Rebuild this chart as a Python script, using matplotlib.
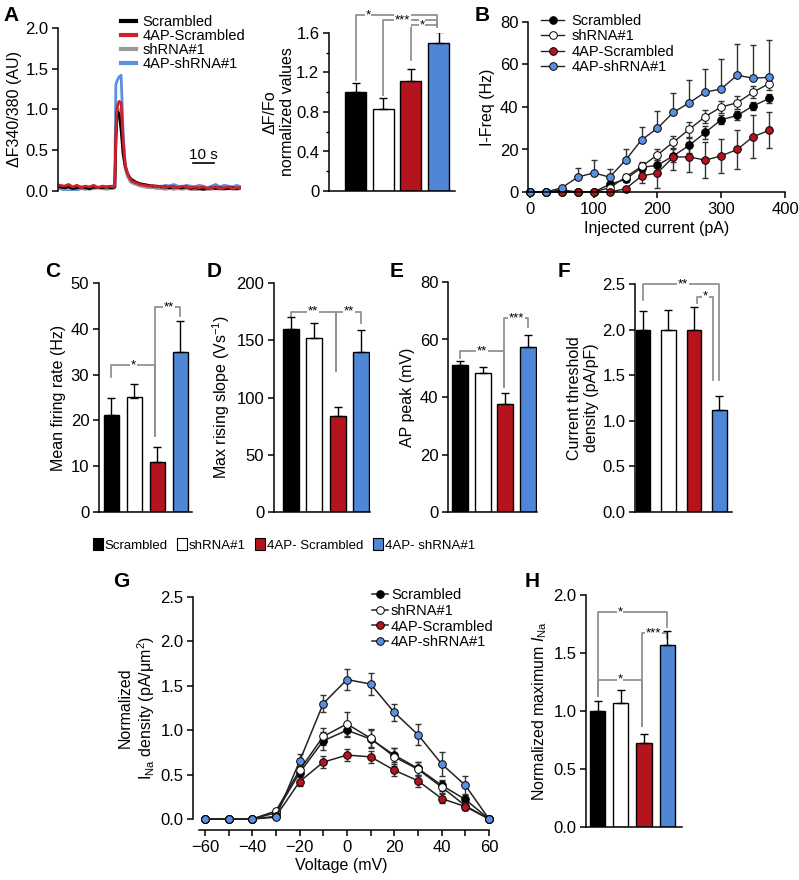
import numpy as np
import matplotlib
matplotlib.use('Agg')
import matplotlib.pyplot as plt
from matplotlib.lines import Line2D
from matplotlib.patches import Patch

plt.rcParams['font.family'] = ['Liberation Sans', 'DejaVu Sans']
plt.rcParams['mathtext.fontset'] = 'custom'
plt.rcParams['mathtext.rm'] = 'Liberation Sans'
plt.rcParams['mathtext.it'] = 'Liberation Sans:italic'
plt.rcParams['axes.linewidth'] = 1.1
plt.rcParams['xtick.major.width'] = 1.1
plt.rcParams['ytick.major.width'] = 1.1
plt.rcParams['xtick.major.size'] = 4
plt.rcParams['ytick.major.size'] = 4
plt.rcParams['xtick.major.pad'] = 3
plt.rcParams['ytick.major.pad'] = 3
plt.rcParams['xtick.labelsize'] = 12
plt.rcParams['ytick.labelsize'] = 12
plt.rcParams['axes.labelsize'] = 11.5
plt.rcParams['axes.labelpad'] = 3

groups = ['Scrambled', 'shRNA#1', '4AP- Scrambled', '4AP- shRNA#1']
bar_colors = ['#000000', '#ffffff', '#b3141d', '#4f86d6']
gray = '#929292'

# --- A: calcium traces
t = [0, 2, 4, 6, 8, 10, 12, 14, 16, 18, 20, 22, 24,
     25, 26, 26.5, 27, 28, 29, 30, 31, 32, 33,
     34, 36, 38, 40, 42, 44, 46, 48, 50, 52, 54, 56, 58, 60, 62, 64, 66, 68, 70, 72, 74, 76, 78, 80, 82, 84, 86]
tr_scr = [0.05, 0.04, 0.05, 0.03, 0.04, 0.05, 0.04, 0.03, 0.05, 0.04, 0.04, 0.05, 0.04,
          0.04, 0.05, 0.60, 0.98, 0.95, 0.75, 0.45, 0.30, 0.22, 0.17,
          0.14, 0.11, 0.09, 0.08, 0.07, 0.06, 0.06, 0.05, 0.05, 0.04, 0.05, 0.04, 0.04, 0.05, 0.03, 0.04,
          0.03, 0.02, 0.03, 0.04, 0.03, 0.04, 0.03, 0.03, 0.04, 0.03, 0.04]
tr_4s = [0.07, 0.06, 0.08, 0.05, 0.07, 0.04, 0.06, 0.05, 0.07, 0.04, 0.06, 0.05, 0.06,
         0.05, 0.06, 0.70, 1.02, 1.10, 1.08, 0.60, 0.32, 0.22, 0.16,
         0.12, 0.10, 0.08, 0.07, 0.06, 0.07, 0.05, 0.06, 0.04, 0.06, 0.05, 0.04, 0.06, 0.05, 0.04, 0.05,
         0.04, 0.05, 0.03, 0.04, 0.05, 0.03, 0.04, 0.05, 0.03, 0.04, 0.04]
tr_sh = [0.04, 0.03, 0.04, 0.02, 0.03, 0.04, 0.03, 0.02, 0.03, 0.04, 0.03, 0.02, 0.03,
         0.03, 0.04, 0.60, 1.03, 1.00, 0.80, 0.45, 0.27, 0.18, 0.13,
         0.10, 0.08, 0.06, 0.05, 0.04, 0.04, 0.03, 0.03, 0.02, 0.03, 0.02, 0.03, 0.02, 0.03, 0.02, 0.01,
         0.02, 0.03, 0.02, 0.02, 0.03, 0.02, 0.02, 0.03, 0.02, 0.02, 0.03]
tr_4sh = [0.03, 0.01, 0.00, 0.02, 0.01, 0.03, 0.02, 0.04, 0.03, 0.05, 0.04, 0.03, 0.05,
          0.04, 0.10, 1.30, 1.35, 1.40, 1.42, 0.70, 0.30, 0.20, 0.14,
          0.11, 0.09, 0.07, 0.06, 0.05, 0.06, 0.04, 0.05, 0.07, 0.06, 0.08, 0.06, 0.05, 0.07, 0.06, 0.05,
          0.07, 0.06, 0.04, 0.06, 0.08, 0.05, 0.07, 0.06, 0.05, 0.07, 0.05]

# bar values (mean, sem)
a_vals = [1.0, 0.83, 1.11, 1.50]
a_sem = [0.09, 0.11, 0.13, 0.11]
c_vals = [21.2, 25.0, 11.0, 35.0]
c_sem = [3.6, 3.0, 3.3, 6.8]
d_vals = [160, 152, 84, 140]
d_sem = [10, 13, 8, 19]
e_vals = [51.0, 48.3, 37.5, 57.4]
e_sem = [1.6, 2.1, 3.9, 4.0]
f_vals = [2.0, 2.0, 2.0, 1.12]
f_sem = [0.2, 0.22, 0.25, 0.15]
h_vals = [1.0, 1.07, 0.72, 1.57]
h_sem = [0.09, 0.11, 0.08, 0.12]

# --- B: I-F curves
cur = [0, 25, 50, 75, 100, 125, 150, 175, 200, 225, 250, 275, 300, 325, 350, 375]
b_scr = [0, 0, 0, 0, 0, 3.6, 6, 11.5, 12.6, 17, 22, 28, 34, 36, 40.5, 44]
b_scr_err = [0, 0, 0, 0, 0, 1, 1.5, 2, 2.5, 3, 3.5, 3, 2, 2, 2, 2]
b_sh = [0, 0, 1, 0, 0, 2, 7, 12, 17.5, 23.5, 29.5, 35.5, 40, 42, 47, 51]
b_sh_err = [0, 0, 0, 0, 0, 1, 1.5, 2, 2.5, 3, 3.5, 3, 3, 3, 3, 3]
b_4s = [0, 0, 0, 0, 0, 0, 1.5, 7.5, 9, 16.5, 16.5, 15, 17, 20, 26, 29]
b_4s_err = [0, 0, 0, 0, 0, 0, 1, 3.5, 7, 6, 7, 8.5, 8, 9, 10, 8.5]
b_4sh = [0, 0, 2, 7, 9, 7, 15, 24.5, 30, 37.5, 42, 47, 48.5, 55, 53.5, 54]
b_4sh_err = [0, 0, 0.5, 4.5, 6, 4, 5, 6, 8, 9, 10.5, 11, 14, 14.5, 15.5, 17.5]

# --- G: I-V curves
volt = [-60, -50, -40, -30, -20, -10, 0, 10, 20, 30, 40, 50, 60]
g_scr = [0, 0, 0, 0.07, 0.52, 0.88, 1.0, 0.90, 0.72, 0.57, 0.38, 0.22, 0]
g_scr_err = [0, 0, 0, 0.02, 0.08, 0.10, 0.08, 0.10, 0.08, 0.07, 0.06, 0.05, 0]
g_sh = [0, 0, 0, 0.09, 0.55, 0.93, 1.07, 0.91, 0.70, 0.56, 0.36, 0.15, 0]
g_sh_err = [0, 0, 0, 0.02, 0.07, 0.10, 0.13, 0.10, 0.10, 0.08, 0.07, 0.05, 0]
g_4s = [0, 0, 0, 0.03, 0.42, 0.64, 0.72, 0.70, 0.55, 0.43, 0.23, 0.14, 0]
g_4s_err = [0, 0, 0, 0.02, 0.05, 0.07, 0.07, 0.07, 0.07, 0.07, 0.05, 0.04, 0]
g_4sh = [0, 0, 0, 0.02, 0.65, 1.30, 1.57, 1.52, 1.20, 0.95, 0.62, 0.38, 0]
g_4sh_err = [0, 0, 0, 0.02, 0.08, 0.10, 0.12, 0.12, 0.10, 0.12, 0.14, 0.10, 0]

# significance brackets: (x_left, x_right, y, left_end, right_end, star_x, label)
a_br = [(0, 2.95, 1.78, 1.12, 1.66, 0.45, '*'),
        (1, 2.95, 1.73, 0.97, 1.66, 1.7, '***'),
        (2, 2.95, 1.68, 1.33, 1.66, 2.4, '*')]
c_br = [(0, 1.9, 32, 29.5, 16.5, 0.95, '*'),
        (1.9, 3, 44.7, 16.5, 42.7, 2.5, '**')]
d_br = [(0, 1.95, 175, 170, 123, 0.95, '**'),
        (1.95, 3, 175, 123, 165, 2.5, '**')]
e_br = [(0, 1.95, 56, 53.5, 43.5, 0.97, '**'),
        (1.95, 3, 67.4, 43.5, 64.5, 2.5, '***')]
f_br = [(0, 3.0, 2.5, 2.33, 1.45, 1.57, '**'),
        (2.1, 2.75, 2.36, 2.29, 1.45, 2.45, '*')]
h_br = [(0, 3.0, 1.85, 1.13, 1.72, 0.97, '*'),
        (0, 1.9, 1.27, 1.13, 0.87, 0.97, '*'),
        (1.9, 3.0, 1.67, 0.87, 1.63, 2.4, '***')]

W, H = 799, 880
fig = plt.figure(figsize=(W / 100, H / 100), dpi=100)


def px_axes(l, t, r, b):
    return fig.add_axes([l / W, 1 - b / H, (r - l) / W, (b - t) / H])


def clean(ax):
    ax.spines['top'].set_visible(False)
    ax.spines['right'].set_visible(False)
    ax.tick_params(direction='out')


def bracket(ax, br):
    x1, x2, y, e1, e2, sx, lab = br
    ax.plot([x1, x1, x2, x2], [e1, y, y, e2], color=gray, lw=1.3, clip_on=False, zorder=1)
    ax.text(sx, y, lab, ha='center', va='center', fontsize=9.5, zorder=3,
            bbox=dict(facecolor='white', edgecolor='none', pad=0.6))


def bar_panel(ax, vals, sem, ylim, yticks, ylabels, xlim, width, ylabel, brs, pad=3):
    x = np.arange(4)
    ax.bar(x, vals, width, color=bar_colors, edgecolor='black', linewidth=1, zorder=2)
    ax.errorbar(x, vals, yerr=[np.zeros(4), sem], fmt='none', ecolor='black',
                elinewidth=1, capsize=3, capthick=1, zorder=2)
    ax.set_xlim(*xlim)
    ax.set_ylim(*ylim)
    ax.set_xticks([])
    ax.set_yticks(yticks)
    ax.set_yticklabels(ylabels)
    ax.set_ylabel(ylabel, labelpad=pad)
    clean(ax)
    for br in brs:
        bracket(ax, br)


# A traces
ax = px_axes(58, 28, 241, 191)
ax.plot(t, tr_4sh, color='#5b8fe0', lw=2)
ax.plot(t, tr_sh, color='#9a9a9a', lw=2)
ax.plot(t, tr_scr, color='black', lw=2)
ax.plot(t, tr_4s, color='#d0202a', lw=2)
ax.set_xlim(-1, 86)
ax.set_ylim(0, 2.0)
ax.set_yticks([0, 0.5, 1.0, 1.5, 2.0])
ax.set_yticklabels(['0.0', '0.5', '1.0', '1.5', '2.0'])
ax.set_xticks([])
clean(ax)
ax.spines['bottom'].set_visible(False)
ax.set_ylabel('ΔF340/380 (AU)', labelpad=2)
ax.plot([63, 73], [0.34, 0.34], color='black', lw=1.2)
ax.text(68, 0.35, '10 s', ha='center', va='bottom', fontsize=11)
handles = [Line2D([], [], color='black', lw=3), Line2D([], [], color='#d0202a', lw=3),
           Line2D([], [], color='#9a9a9a', lw=3), Line2D([], [], color='#5b8fe0', lw=3)]
ax.legend(handles, ['Scrambled', '4AP-Scrambled', 'shRNA#1', '4AP-shRNA#1'],
          loc='upper left', bbox_to_anchor=(121 / W, 1 - 15 / H), bbox_transform=fig.transFigure,
          frameon=False, fontsize=10.5, handlelength=1.0, handletextpad=0.45,
          labelspacing=0.0, borderpad=0, borderaxespad=0)

# A bars
ax = px_axes(329, 33, 455, 191)
bar_panel(ax, a_vals, a_sem, (0, 1.6), [0, 0.4, 0.8, 1.2, 1.6], ['0', '0.4', '0.8', '1.2', '1.6'],
          (-0.96, 3.59), 0.76, 'ΔF/Fo\nnormalized values', a_br, pad=1)
ax.set_yticks(np.arange(0.2, 1.6, 0.4), minor=True)
ax.tick_params(which='minor', length=2.5, width=1)

# B
ax = px_axes(528, 22, 785, 192)
series_b = [(b_scr, b_scr_err, 'black', 'Scrambled', False),
            (b_sh, b_sh_err, 'white', 'shRNA#1', False),
            (b_4s, b_4s_err, '#b3141d', '4AP-Scrambled', False),
            (b_4sh, b_4sh_err, '#5b8fe0', '4AP-shRNA#1', True)]
for ys, es, col, lab, upper in series_b:
    yerr = [np.zeros(len(es)), es] if upper else es
    ax.errorbar(cur, ys, yerr=yerr, fmt='none', ecolor='#333333', elinewidth=1, capsize=2.5, capthick=1, clip_on=False)
for ys, es, col, lab, upper in series_b:
    ax.plot(cur, ys, color='#222222', lw=1, marker='o', markersize=5.5, markerfacecolor=col,
            markeredgecolor='black', markeredgewidth=0.7, label=lab, clip_on=False)
ax.set_xlim(-3, 400)
ax.set_ylim(0, 80)
ax.set_xticks([0, 100, 200, 300, 400])
ax.set_yticks([0, 20, 40, 60, 80])
ax.set_ylabel('I-Freq (Hz)')
ax.set_xlabel('Injected current (pA)')
clean(ax)
ax.legend(loc='upper left', bbox_to_anchor=(541 / W, 1 - 14 / H), bbox_transform=fig.transFigure,
          frameon=False, fontsize=10.5, handlelength=1.6, handletextpad=0.5,
          labelspacing=0.1, borderpad=0, borderaxespad=0)

# C-F
ax = px_axes(99, 283, 192, 512)
bar_panel(ax, c_vals, c_sem, (0, 50), [0, 10, 20, 30, 40, 50], ['0', '10', '20', '30', '40', '50'],
          (-0.54, 3.5), 0.67, 'Mean firing rate (Hz)', c_br)
ax = px_axes(274, 283, 370, 512)
bar_panel(ax, d_vals, d_sem, (0, 200), [0, 50, 100, 150, 200], ['0', '50', '100', '150', '200'],
          (-0.73, 3.39), 0.68, 'Max rising slope (Vs$^{-1}$)', d_br)
ax = px_axes(448, 282, 537, 512)
bar_panel(ax, e_vals, e_sem, (0, 80), [0, 20, 40, 60, 80], ['0', '20', '40', '60', '80'],
          (-0.53, 3.39), 0.7, 'AP peak (mV)', e_br)
ax = px_axes(635, 284, 732, 512)
bar_panel(ax, f_vals, f_sem, (0, 2.5), [0, 0.5, 1.0, 1.5, 2.0, 2.5], ['0.0', '0.5', '1.0', '1.5', '2.0', '2.5'],
          (-0.31, 3.49), 0.57, 'Current threshold\ndensity (pA/pF)', f_br, pad=2)

# shared legend row
lh = [Patch(facecolor=c, edgecolor='black', linewidth=0.8) for c in bar_colors]
fig.legend(lh, groups, loc='center', bbox_to_anchor=(284 / W, 1 - 545 / H), ncol=4, frameon=False,
           fontsize=9.5, handlelength=0.75, handleheight=0.95, handletextpad=0.15, columnspacing=0.7,
           borderpad=0, borderaxespad=0)

# G
ax = px_axes(193, 597, 489, 819)
series_g = [(g_scr, g_scr_err, 'black', 'Scrambled'),
            (g_sh, g_sh_err, 'white', 'shRNA#1'),
            (g_4s, g_4s_err, '#b3141d', '4AP-Scrambled'),
            (g_4sh, g_4sh_err, '#5b8fe0', '4AP-shRNA#1')]
for ys, es, col, lab in series_g:
    ax.errorbar(volt, ys, yerr=es, fmt='none', ecolor='#333333', elinewidth=1, capsize=2.5, capthick=1, clip_on=False)
for ys, es, col, lab in series_g:
    ax.plot(volt, ys, color='#222222', lw=1.1, marker='o', markersize=5.5, markerfacecolor=col,
            markeredgecolor='black', markeredgewidth=0.7, label=lab, clip_on=False)
ax.set_xlim(-65, 60)
ax.set_ylim(0, 2.5)
ax.set_xticks([-60, -40, -20, 0, 20, 40, 60])
ax.set_xticks([-50, -30, -10, 10, 30, 50], minor=True)
ax.tick_params(axis='x', which='minor', length=4, width=1.1)
ax.set_yticks([0, 0.5, 1.0, 1.5, 2.0, 2.5])
ax.set_yticklabels(['0.0', '0.5', '1.0', '1.5', '2.0', '2.5'])
clean(ax)
ax.spines['bottom'].set_position(('outward', 8))
ax.spines['bottom'].set_bounds(-62.5, 60)
ax.set_xlabel('Voltage (mV)', labelpad=2)
ax.set_ylabel('Normalized\n$\\mathrm{I_{Na}}$ density (pA/μm$^2$)', labelpad=2)
ax.legend(loc='upper left', bbox_to_anchor=(372 / W, 1 - 588 / H), bbox_transform=fig.transFigure,
          frameon=False, fontsize=10.5, handlelength=1.1, handletextpad=0.2,
          labelspacing=0.12, borderpad=0, borderaxespad=0)

# H
ax = px_axes(586, 595, 682, 827)
bar_panel(ax, h_vals, h_sem, (0, 2.0), [0, 0.5, 1.0, 1.5, 2.0], ['0.0', '0.5', '1.0', '1.5', '2.0'],
          (-0.5, 3.64), 0.65, 'Normalized maximum $I_{\\mathrm{Na}}$', h_br)

for lab, x, y in [('A', 3, 6), ('B', 475, 6), ('C', 45, 262), ('D', 207, 262),
                  ('E', 390, 262), ('F', 558, 262), ('G', 113, 572), ('H', 525, 572)]:
    fig.text(x / W, 1 - y / H, lab, fontsize=15, fontweight='bold', va='top', ha='left')

fig.savefig('out.png', dpi=100)
